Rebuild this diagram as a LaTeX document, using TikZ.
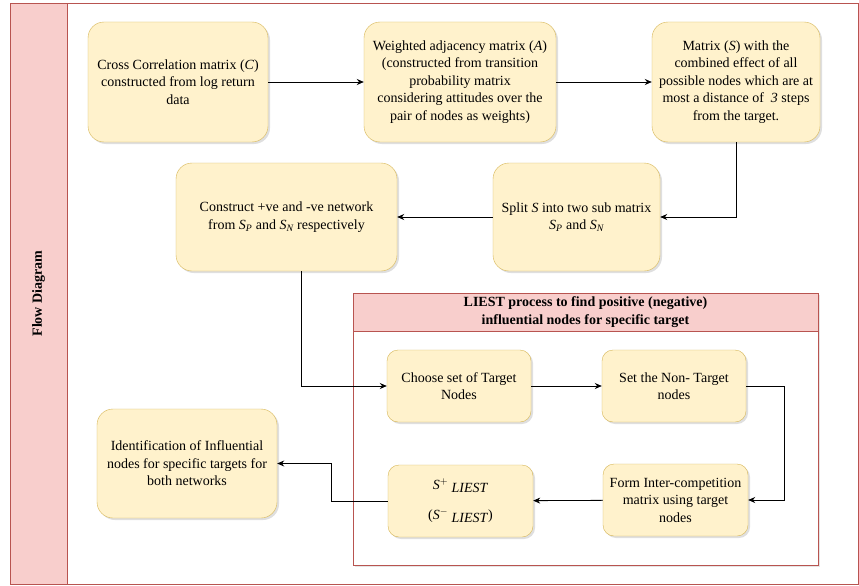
\documentclass[tikz,border=0pt]{standalone}
\usepackage{fontspec}
\setmainfont{Liberation Serif}
\usetikzlibrary{arrows.meta}
\usetikzlibrary{shadows}
\definecolor{boxfill}{HTML}{FFF2CC}
\definecolor{boxline}{HTML}{D6B656}
\definecolor{lanefill}{HTML}{F8CECC}
\definecolor{laneline}{HTML}{B85450}
\begin{document}
\begin{tikzpicture}[x=1pt,y=-1pt,>={Stealth[length=7pt,width=6pt]},
	font=\fontsize{14}{17.5}\selectfont]
	\tikzstyle{process}=[rectangle,draw=boxline,fill=boxfill,align=center,inner sep=2pt,
		drop shadow={opacity=0.25,shadow xshift=2pt,shadow yshift=-2pt}]
	\tikzstyle{big process}=[process,rounded corners=16pt]
	\tikzstyle{small process}=[process,rounded corners=11pt,minimum width=144pt,minimum height=72pt]
	\tikzstyle{flow}=[->,black,line width=0.8pt]
	\useasboundingbox (0,0) rectangle (859,586);
	
	% Draw the lane
	\draw[laneline,fill=white] (10,3) rectangle (858,584);
	\draw[laneline,fill=lanefill] (10,3) rectangle (67,584);
	\node[rotate=90,font=\fontsize{14}{17}\selectfont\bfseries] (lane) at (38.5,293.5) {Flow Diagram};
	
	% Draw the LIEST container
	\node[draw=laneline,fill=white,minimum width=465pt,minimum height=272pt,inner sep=0pt,
		drop shadow={opacity=0.2,shadow xshift=2pt,shadow yshift=-2pt}] (box) at (585.5,429) {};
	\node[draw=laneline,fill=lanefill,minimum width=465pt,minimum height=38pt,inner sep=0pt,align=center,
		font=\fontsize{14}{17.5}\selectfont\bfseries] (box-title) at (585.5,312)
		{LIEST process to find positive (negative)\\influential nodes for specific target};
	
	% Draw the first row
	\node[big process,minimum width=180pt,minimum height=120pt] (corr) at (178,82)
		{Cross Correlation matrix ($\mathit{C}$)\\constructed from log return\\data};
	\node[big process,minimum width=192pt,minimum height=120pt] (adj) at (460,82)
		{Weighted adjacency matrix ($\mathit{A}$)\\(constructed from transition\\probability matrix\\considering attitudes over the\\pair of nodes as weights)};
	\node[big process,minimum width=168pt,minimum height=120pt] (comb) at (736,82)
		{Matrix ($\mathit{S}$) with the\\combined effect of all\\possible nodes which are at\\most a distance of \ $\mathit{3}$ steps\\from the target.};
	
	% Draw the second row
	\node[big process,minimum width=167pt,minimum height=108pt] (split) at (576.5,217)
		{Split $\mathit{S}$ into two sub matrix\\$\mathit{S}_{\mathit{P}}$ and $\mathit{S}_{\mathit{N}}$};
	\node[big process,minimum width=221pt,minimum height=108pt] (net) at (286.5,217)
		{Construct +ve and -ve network\\from $\mathit{S}_{\mathit{P}}$ and $\mathit{S}_{\mathit{N}}$ respectively};
	
	% Draw the LIEST steps
	\node[small process] (target) at (459,386) {Choose set of Target\\Nodes};
	\node[small process] (nontarget) at (674,386) {Set the Non- Target\\nodes};
	\node[small process,minimum width=145pt] (inter) at (675.5,500) {Form Inter-competition\\matrix using target\\nodes};
	\node[small process,minimum width=145pt,font=\fontsize{14}{30}\selectfont] (liest) at (460.5,501)
		{$\mathit{S}^{+}$ \raisebox{-3pt}{\textit{LIEST}}\\($\mathit{S}^{-}$ \raisebox{-3pt}{\textit{LIEST}})};
	
	% Draw the result
	\node[big process,minimum width=180pt,minimum height=109pt] (ident) at (187,463.5)
		{Identification of Influential\\nodes for specific targets for\\both networks};
	
	% Connect the boxes
	\draw[flow] (corr) -- (adj);
	\draw[flow] (adj) -- (comb);
	\draw[flow] (comb.south) |- (split.east);
	\draw[flow] (split) -- (net);
	\draw[flow] ([xshift=14.5pt]net.south) |- (target.west);
	\draw[flow] (target) -- (nontarget);
	\draw[flow] (nontarget.east) -- ++(38,0) |- (inter.east);
	\draw[flow] (inter) -- (liest);
	\draw[flow] (liest.west) -- ++(-56,0) |- (ident.east);
	
\end{tikzpicture}
\end{document}
